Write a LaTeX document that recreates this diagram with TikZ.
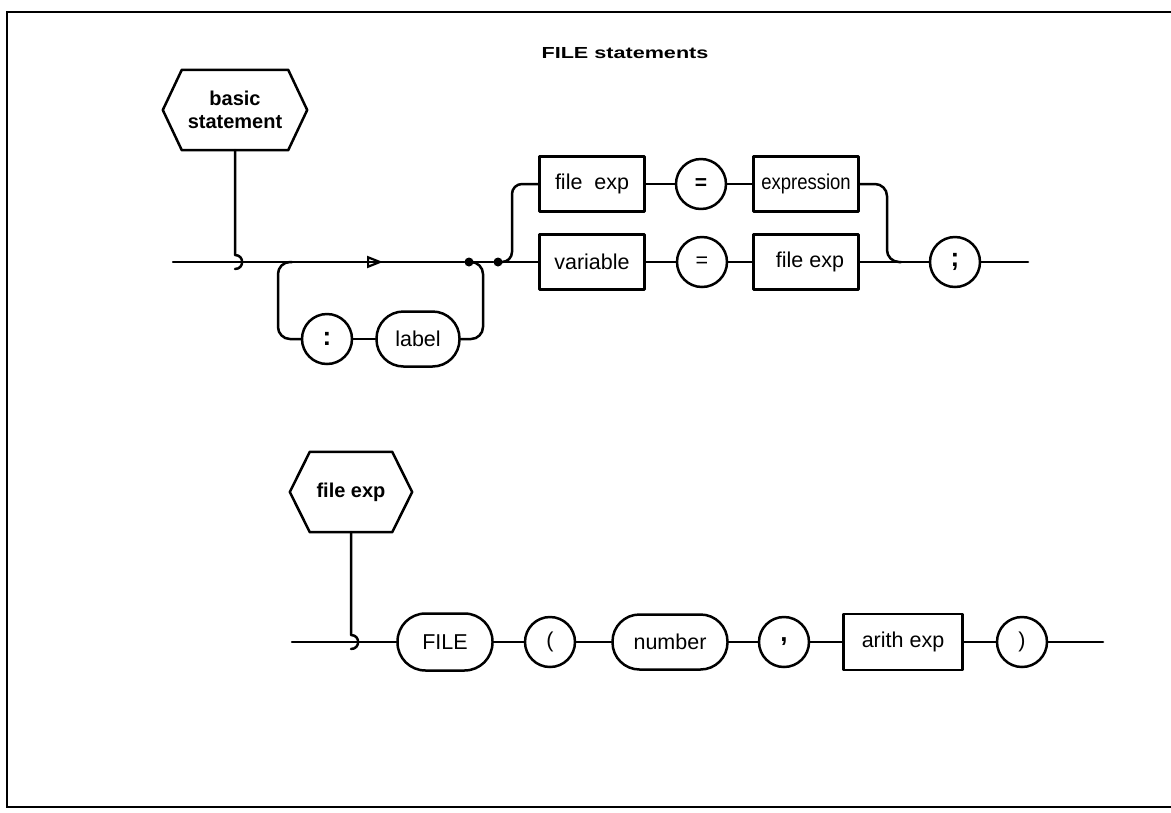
\documentclass[tikz,border=0pt]{standalone}
\usepackage{fontspec}
\setmainfont{Liberation Sans}
\usetikzlibrary{calc,arrows.meta}
\begin{document}
\begin{tikzpicture}[x=1pt,y=-1pt,
  ln/.style={line width=2.5pt, line cap=round, line join=round},
  lbl/.style={font=\fontsize{21.5}{25}\selectfont},
  boxn/.style={ln, lbl, draw, rectangle, minimum width=105pt, minimum height=55pt, inner sep=0pt},
  circn/.style={ln, lbl, draw, circle, minimum size=50pt, inner sep=0pt},
  pilln/.style={ln, lbl, draw, rectangle, rounded corners=27pt, minimum height=55pt, inner sep=0pt},
  hexn/.style={font=\fontsize{20}{23}\selectfont\bfseries, align=center, inner sep=0pt, minimum height=80pt},
  dotn/.style={circle, fill, inner sep=0pt, minimum size=9pt},
  conn/.style={ln, rounded corners=12pt},
  punct/.style={font=\fontsize{26}{28}\selectfont\bfseries},
]
\useasboundingbox (0,0) rectangle (1171,812);
% frame
\coordinate (fTR) at (1171,12);
\coordinate (fTL) at (7,12);
\coordinate (fBL) at (7,807);
\coordinate (fBR) at (1171,807);
\draw[line width=2.2pt] (fTR) -- (fTL) -- (fBL) -- (fBR);

% title
\node[font=\fontsize{16}{18}\selectfont\bfseries] (title) at (625,53) {\scalebox{1.35}[1]{FILE statements}};

% ---------- upper diagram ----------
\node[hexn, minimum width=144pt] (bs) at (235,110) {basic\\statement};
\draw[ln] (bs.west) -- ($(bs.north west)+(19,0)$) -- ($(bs.north east)+(-19,0)$) -- (bs.east)
  -- ($(bs.south east)+(-19,0)$) -- ($(bs.south west)+(19,0)$) -- cycle;

\coordinate (s1) at (173,262);
\coordinate (hop1) at (235,262);
\coordinate (arr) at (383,262);
\coordinate (lpL) at (278,262);
\coordinate (lpR) at (483,262);
\node[dotn] (d1) at (469,262) {};
\node[dotn] (d2) at (498,262) {};
\coordinate (brU) at (512,262);

\draw[ln] (s1) -- (d1);
\draw[ln] (d1) -- (d2);
\draw[ln, -{Triangle[open, length=16pt, width=12pt, line width=2.2pt]}] ($(arr)+(-20,0)$) -- (arr);
\draw[ln] (bs.south) -- ($(hop1)+(0,-7)$) .. controls ($(hop1)+(9.5,-7)$) and ($(hop1)+(9.5,7)$) .. ($(hop1)+(0,7)$);

% optional label loop
\node[circn, punct] (colon) at (327,339) {:};
\node[pilln, minimum width=83pt] (lab) at (418,339) {label};
\draw[conn] ($(lpL)+(14,0)$) -- (lpL) -- (lpL |- colon) -- (colon.west);
\draw[ln] (colon) -- (lab);
\draw[conn] (lab.east) -- (lpR |- lab) -- (lpR) -- (d1);

% two alternatives
\node[boxn] (fe1) at (592,184) {file\hspace{0.55em}exp};
\node[circn, font=\fontsize{21}{25}\selectfont\bfseries] (eq1) at (701,184) {=};
\node[boxn] (expr) at (806,184) {\scalebox{0.86}[1]{expression}};
\node[boxn] (var) at (592,262) {variable};
\node[circn] (eq2) at (702,262) {=};
\node[boxn] (fe2) at (806,262) {\hspace{8pt}file exp};
\node[circn, punct] (semi) at (955,262) {;};
\coordinate (joinR) at (887,262);
\coordinate (end1) at (1028,262);

\draw[ln, rounded corners=10pt] (d2) -- (brU) -- (brU |- fe1) -- (fe1.west);
\draw[ln] (d2) -- (var);
\draw[ln] (fe1) -- (eq1);
\draw[ln] (eq1) -- (expr);
\draw[ln] (var) -- (eq2);
\draw[ln] (eq2) -- (fe2);
\draw[ln] (fe2) -- (semi);
\draw[ln] (semi) -- (end1);
\draw[conn] (expr.east) -- (joinR |- expr) -- (joinR) -- ($(joinR)+(14,0)$);

% ---------- lower diagram ----------
\node[hexn, minimum width=122pt] (fx) at (351,492) {file exp};
\draw[ln] (fx.west) -- ($(fx.north west)+(20,0)$) -- ($(fx.north east)+(-20,0)$) -- (fx.east)
  -- ($(fx.south east)+(-20,0)$) -- ($(fx.south west)+(20,0)$) -- cycle;

\coordinate (s2) at (292,642);
\coordinate (hop2) at (351,642);
\coordinate (end2) at (1103,642);
\node[pilln, minimum width=95pt, minimum height=57pt, rounded corners=28pt] (FILE) at (445,642) {FILE};
\node[circn] (lp) at (550,642) {(};
\node[pilln, minimum width=115pt] (num) at (670,642) {number};
\node[circn, punct] (cm) at (784,642) {,};
\node[boxn, minimum width=119pt, minimum height=56pt] (ae) at (903,642) {arith exp};
\node[circn] (rp) at (1022,642) {)};

\draw[ln] (fx.south) -- ($(hop2)+(0,-7)$) .. controls ($(hop2)+(9.5,-7)$) and ($(hop2)+(9.5,7)$) .. ($(hop2)+(0,7)$);
\draw[ln] (s2) -- (FILE);
\draw[ln] (FILE) -- (lp);
\draw[ln] (lp) -- (num);
\draw[ln] (num) -- (cm);
\draw[ln] (cm) -- (ae);
\draw[ln] (ae) -- (rp);
\draw[ln] (rp) -- (end2);
\end{tikzpicture}
\end{document}
